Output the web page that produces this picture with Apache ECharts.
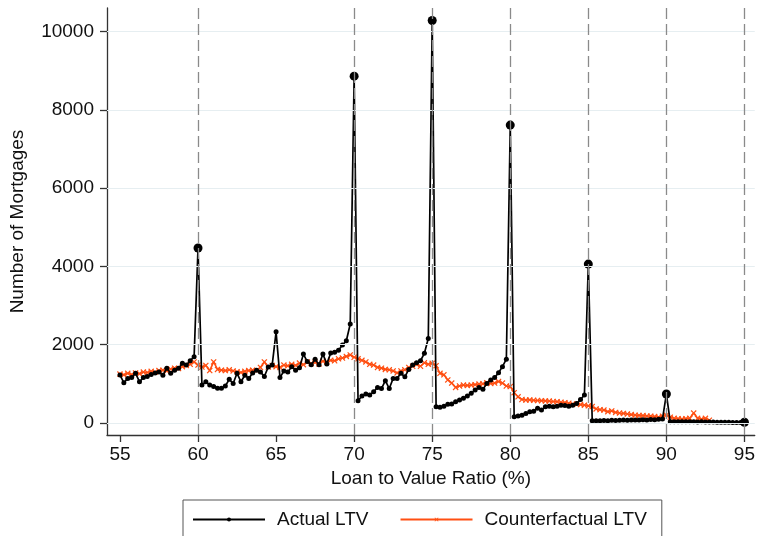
<!DOCTYPE html>
<html>
<head>
<meta charset="utf-8">
<script src="https://cdn.jsdelivr.net/npm/echarts@6/dist/echarts.min.js"></script>
<style>
  html, body { margin: 0; padding: 0; background: #fff; }
  #chart { width: 758px; height: 536px; }
</style>
</head>
<body>
<div id="chart"></div>
<script>
// LTV bins: 55% to 95% in quarter-point steps
const binStart = 55;
const binStep = 0.25;

// Number of mortgages per bin, observed loan-to-value ratios (55.00 ... 95.00)
const actualLTV = [
  1226, 1030, 1140, 1160, 1270, 1055, 1160, 1190, 1240, 1280, 1300, 1220, 1400, 1270, 1350, 1400, 1525, 1480, 1590, 1695,
  4470, 970, 1055, 970, 930, 885, 885, 945, 1115, 1010, 1270, 1055, 1220, 1140, 1280, 1350, 1300, 1190, 1430, 1480,
  2330, 1160, 1330, 1300, 1440, 1350, 1410, 1760, 1570, 1490, 1630, 1490, 1760, 1510, 1790, 1810, 1860, 1990, 2100, 2530,
  8860, 570, 690, 740, 715, 800, 910, 880, 1080, 880, 1140, 1140, 1270, 1180, 1370, 1480, 1540, 1590, 1780, 2160,
  10280, 416, 400, 430, 477, 485, 545, 587, 630, 690, 758, 843, 910, 860, 1010, 1100, 1160, 1285, 1440, 1630,
  7610, 160, 180, 200, 245, 290, 300, 375, 330, 415, 430, 415, 430, 455, 445, 430, 455, 500, 600, 715,
  4060, 60, 55, 60, 65, 60, 70, 65, 70, 75, 70, 80, 75, 80, 85, 80, 90, 85, 95, 100,
  740, 30, 35, 30, 30, 35, 30, 30, 25, 30, 25, 25, 25, 20, 20, 20, 20, 15, 15, 15,
  20
];

// Counterfactual distribution (55.00 ... 92.75)
const counterfactualLTV = [
  1250, 1230, 1270, 1240, 1280, 1260, 1300, 1290, 1320, 1300, 1340, 1350, 1330, 1380, 1400, 1390, 1440, 1470, 1500, 1560,
  1480, 1430, 1470, 1340, 1560, 1370, 1350, 1340, 1360, 1330, 1310, 1290, 1320, 1340, 1350, 1340, 1420, 1560, 1430, 1470,
  1440, 1420, 1480, 1460, 1500, 1470, 1530, 1490, 1560, 1520, 1550, 1510, 1580, 1560, 1600, 1590, 1640, 1660, 1700, 1740,
  1680, 1640, 1600, 1560, 1500, 1480, 1420, 1400, 1370, 1360, 1330, 1280, 1330, 1360, 1420, 1450, 1500, 1450, 1540, 1500,
  1525, 1465, 1270, 1230, 1100, 1020, 910, 945, 970, 960, 970, 980, 995, 1000, 1030, 1010, 1020, 1060, 1020, 945,
  930, 775, 670, 600, 587, 590, 580, 575, 570, 565, 560, 550, 545, 530, 520, 505, 485, 480, 470, 455,
  440, 420, 360, 340, 330, 290, 310, 270, 255, 245, 230, 215, 200, 195, 190, 180, 175, 165, 150, 175,
  200, 150, 120, 110, 100, 110, 120, 255, 120, 100, 120, 70
];

// Round-number notches where the actual distribution bunches
const notches = [60, 70, 75, 80, 85, 90, 95];
const notchLines = [60, 70, 75, 80, 85, 90, 95];

const xTicks = [55, 60, 65, 70, 75, 80, 85, 90, 95];
const yTicks = [0, 2000, 4000, 6000, 8000, 10000];

const FONT = 'Liberation Sans, Arial, sans-serif';
const ORANGE = '#ff4f12';
const CROSS = 'path://M0,1.4L1.4,0L5,3.6L8.6,0L10,1.4L6.4,5L10,8.6L8.6,10L5,6.4L1.4,10L0,8.6L3.6,5Z';

const actualData = actualLTV.map((v, i) => {
  const x = binStart + i * binStep;
  const item = { value: [x, v] };
  if (notches.indexOf(x) >= 0) item.symbolSize = 9;
  return item;
});
const cfData = counterfactualLTV.map((v, i) => [binStart + i * binStep, v]);

const chart = echarts.init(document.getElementById('chart'), null, { renderer: 'canvas' });

chart.setOption({
  animation: false,
  backgroundColor: '#fff',
  textStyle: { fontFamily: FONT },
  grid: { left: 107, right: 1, top: 8, bottom: 101, containLabel: false },
  legend: {
    data: ['Actual LTV', 'Counterfactual LTV'],
    left: 183,
    top: 500,
    orient: 'horizontal',
    itemWidth: 72,
    itemHeight: 5,
    itemGap: 31,
    padding: [10, 15, 30, 9],
    borderColor: '#555',
    borderWidth: 1,
    textStyle: { fontFamily: FONT, fontSize: 19, color: '#111', padding: [0, 0, 0, 7] }
  },
  xAxis: {
    type: 'value',
    min: 54.17,
    max: 95.66,
    name: 'Loan to Value Ratio (%)',
    nameLocation: 'middle',
    nameGap: 33,
    nameTextStyle: { fontFamily: FONT, fontSize: 19, color: '#111' },
    axisLine: { show: true, onZero: false, lineStyle: { color: '#333', width: 1.3 } },
    axisTick: { show: true, length: 7, customValues: xTicks, lineStyle: { color: '#333', width: 1.3 } },
    axisLabel: { customValues: xTicks, margin: 10, fontFamily: FONT, fontSize: 19, color: '#111' },
    splitLine: { show: false }
  },
  yAxis: {
    type: 'value',
    min: -306,
    max: 10600,
    name: 'Number of Mortgages',
    nameLocation: 'middle',
    nameGap: 80,
    nameTextStyle: { fontFamily: FONT, fontSize: 19, color: '#111' },
    axisLine: { show: true, onZero: false, lineStyle: { color: '#333', width: 1.3 } },
    axisTick: { show: true, length: 7, customValues: yTicks, lineStyle: { color: '#333', width: 1.3 } },
    axisLabel: {
      customValues: yTicks, margin: 13, fontFamily: FONT, fontSize: 19, color: '#111',
      formatter: v => String(v)
    },
    splitLine: { show: false }
  },
  series: [
    {
      // background reference lines: horizontal at the y ticks, dashed at the notches
      name: 'guides',
      type: 'line',
      data: [],
      z: 0,
      silent: true,
      markLine: {
        silent: true,
        symbol: 'none',
        label: { show: false },
        data: yTicks.map(v => ({ yAxis: v, lineStyle: { color: '#e6eef1', type: 'solid', width: 1.2 } }))
          .concat(notchLines.map(v => ({ xAxis: v, lineStyle: { color: '#8a8a8a', type: [11, 5], width: 1.3 } })))
      }
    },
    {
      name: 'Counterfactual LTV',
      type: 'line',
      data: cfData,
      z: 3,
      symbol: CROSS,
      symbolSize: 6,
      showSymbol: true,
      lineStyle: { color: ORANGE, width: 1.6 },
      itemStyle: { color: ORANGE },
      emphasis: { disabled: true }
    },
    {
      name: 'Actual LTV',
      type: 'line',
      data: actualData,
      z: 4,
      symbol: 'circle',
      symbolSize: 5,
      showSymbol: true,
      lineStyle: { color: '#000', width: 1.7 },
      itemStyle: { color: '#000' },
      emphasis: { disabled: true }
    }
  ]
});
</script>
</body>
</html>
